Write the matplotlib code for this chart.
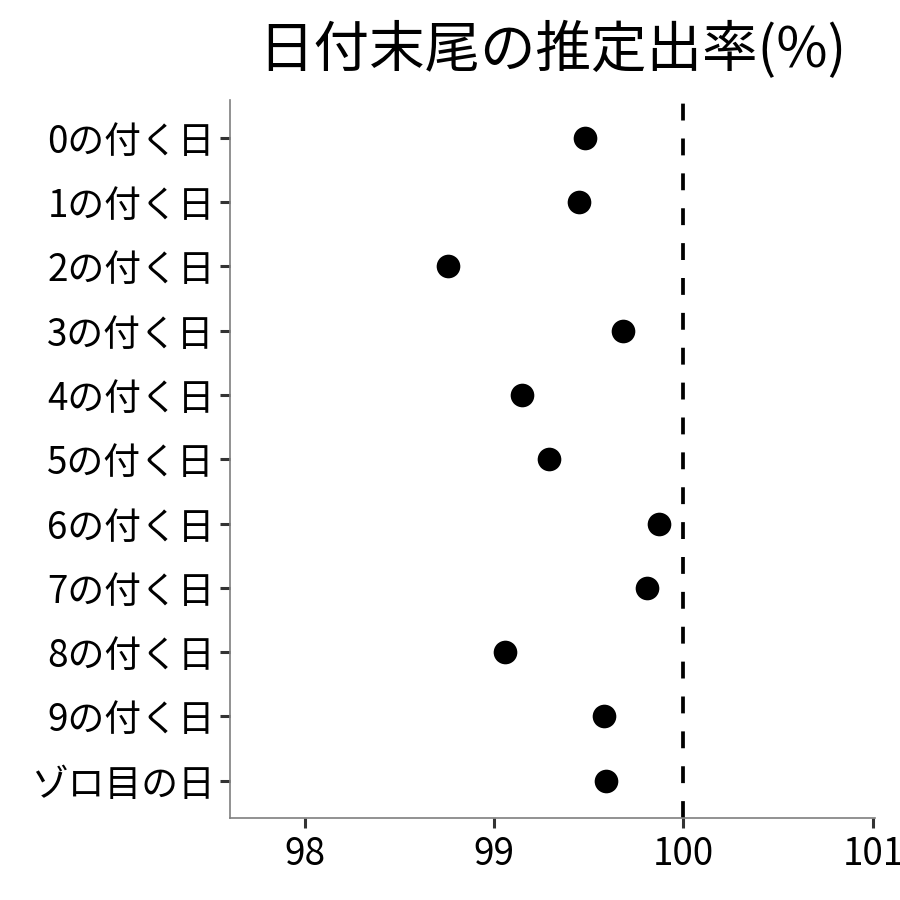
import numpy as np
import matplotlib.pyplot as plt

plt.rcParams['font.family'] = ['Noto Sans CJK JP', 'DejaVu Sans']

# 日付末尾ごとの推定出率
labels = ['0の付く日', '1の付く日', '2の付く日', '3の付く日', '4の付く日',
          '5の付く日', '6の付く日', '7の付く日', '8の付く日', '9の付く日',
          'ゾロ目の日']
rates = [99.48, 99.45, 98.76, 99.68, 99.15, 99.29, 99.87, 99.81, 99.06, 99.58, 99.59]
xticks = [98, 99, 100, 101]

fig = plt.figure(figsize=(9, 9), dpi=100)
ax = fig.add_axes([0.2556, 0.0911, 0.7164, 0.7978])

y = np.arange(len(labels))
ax.axvline(100, color='black', linewidth=2.7, linestyle=(0, (4.5, 4.8)), zorder=1)
ax.scatter(rates, y, s=290, color='black', zorder=3, linewidths=0)

ax.set_yticks(y)
ax.set_yticklabels(labels)
ax.set_xticks(xticks)
ax.set_xticklabels([str(v) for v in xticks])
ax.set_xlim(97.607, 101.01)
ax.set_ylim(len(labels) - 0.42, -0.59)

for side in ['top', 'right']:
    ax.spines[side].set_visible(False)
for side in ['left', 'bottom']:
    ax.spines[side].set_color('#7f7f7f')
    ax.spines[side].set_linewidth(1.2)

ax.tick_params(axis='both', colors='#333333', length=7, width=2.2,
               labelsize=26.5, labelcolor='black', pad=4)
ax.tick_params(axis='x', pad=5)

ax.set_title('日付末尾の推定出率(%)', fontsize=40, pad=24)

fig.savefig('out.png', dpi=100)
